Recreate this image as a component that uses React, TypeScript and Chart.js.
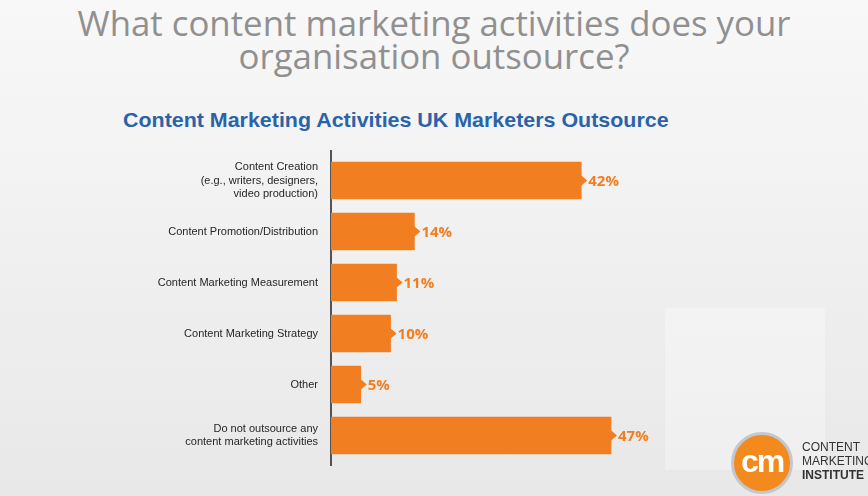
import { useEffect, useRef } from 'react';
import { Chart, registerables } from 'chart.js';

Chart.register(...registerables);

// chart data
const categories: (string | string[])[] = [
  ['Content Creation', '(e.g., writers, designers,', 'video production)'],
  'Content Promotion/Distribution',
  'Content Marketing Measurement',
  'Content Marketing Strategy',
  'Other',
  ['Do not outsource any', 'content marketing activities'],
];
const percentages = [42, 14, 11, 10, 5, 47];

const ORANGE = '#f27e22';

// axis line, small arrow at the end of each bar + the value next to it
const valueTags = {
  id: 'valueTags',
  beforeDatasetsDraw(chart: any) {
    const { ctx, chartArea } = chart;
    ctx.save();
    ctx.strokeStyle = '#1f1f1f';
    ctx.lineWidth = 1.5;
    ctx.beginPath();
    ctx.moveTo(chartArea.left, chartArea.top - 5);
    ctx.lineTo(chartArea.left, chartArea.bottom + 5);
    ctx.stroke();
    ctx.restore();
  },
  afterDatasetsDraw(chart: any) {
    const { ctx } = chart;
    const meta = chart.getDatasetMeta(0);
    ctx.save();
    meta.data.forEach((bar: any, i: number) => {
      const { x, y } = bar;
      ctx.fillStyle = ORANGE;
      ctx.beginPath();
      ctx.moveTo(x - 1, y - 6);
      ctx.lineTo(x + 6, y);
      ctx.lineTo(x - 1, y + 6);
      ctx.closePath();
      ctx.fill();
      ctx.font = 'bold 15px "Open Sans"';
      ctx.textAlign = 'left';
      ctx.textBaseline = 'middle';
      ctx.fillText(percentages[i] + '%', x + 7, y + 1);
    });
    ctx.restore();
  },
};

const OutsourceChart = () => {
  const canvasRef = useRef<HTMLCanvasElement | null>(null);
  const chartRef = useRef<Chart | null>(null);

  useEffect(() => {
    if (!canvasRef.current) return;
    if (chartRef.current) chartRef.current.destroy();
    const ctx = canvasRef.current.getContext('2d');
    if (!ctx) return;

    chartRef.current = new Chart(ctx, {
      type: 'bar',
      data: {
        labels: categories,
        datasets: [
          {
            data: percentages,
            backgroundColor: ORANGE,
            barThickness: 37,
          },
        ],
      },
      options: {
        indexAxis: 'y',
        responsive: false,
        animation: false,
        layout: { padding: { top: 155, bottom: 35, left: 0, right: 108 } },
        plugins: {
          legend: { display: false },
          tooltip: { enabled: false },
        },
        scales: {
          x: {
            display: false,
            min: 0,
            max: 72,
          },
          y: {
            grid: { display: false },
            border: { display: false },
            afterFit: (scale: any) => {
              scale.width = 331;
            },
            ticks: {
              color: '#262626',
              padding: 5,
              font: { family: '"Liberation Sans", Arial, sans-serif', size: 11, lineHeight: 1.2 },
            },
          },
        },
      },
      plugins: [valueTags],
    });

    return () => {
      if (chartRef.current) chartRef.current.destroy();
    };
  }, []);

  return <canvas ref={canvasRef} width={868} height={496} style={{ position: 'absolute', left: 0, top: 0 }} />;
};

export default function App() {
  useEffect(() => {
    document.body.style.margin = '0';
  }, []);

  return (
    <div
      style={{
        position: 'relative',
        width: 868,
        height: 496,
        overflow: 'hidden',
        background: 'linear-gradient(#f8f8f8, #e8e8e8)',
      }}
    >
      <div
        style={{
          position: 'absolute',
          left: 665,
          top: 308,
          width: 160,
          height: 162,
          background: 'rgba(255,255,255,0.3)',
        }}
      />
      <div
        style={{
          position: 'absolute',
          left: 0,
          top: 6,
          width: 868,
          textAlign: 'center',
          fontFamily: '"Open Sans", sans-serif',
          fontSize: 34.8,
          lineHeight: '33px',
          color: '#909090',
        }}
      >
        What content marketing activities does your
        <br />
        organisation outsource?
      </div>
      <div
        style={{
          position: 'absolute',
          left: 123,
          top: 107,
          fontFamily: '"Liberation Sans", sans-serif',
          fontWeight: 'bold',
          fontSize: 21,
          lineHeight: '26px',
          color: '#2a63a8',
          transform: 'scaleX(1.02)',
          transformOrigin: 'left',
        }}
      >
        Content Marketing Activities UK Marketers Outsource
      </div>
      <OutsourceChart />
      <div
        style={{
          position: 'absolute',
          left: 731,
          top: 432,
          width: 56,
          height: 56,
          borderRadius: '50%',
          background: '#f28a1e',
          border: '3px solid #c3c7d0',
          color: '#fff',
          fontFamily: '"Liberation Sans", sans-serif',
          fontWeight: 'bold',
          fontSize: 32,
          lineHeight: '52px',
          textAlign: 'center',
          letterSpacing: -2,
        }}
      >
        cm
      </div>
      <div
        style={{
          position: 'absolute',
          left: 802,
          top: 440,
          fontFamily: '"Liberation Sans", sans-serif',
          fontSize: 12,
          lineHeight: '14px',
          color: '#333',
        }}
      >
        CONTENT
        <br />
        MARKETING
        <br />
        <b>INSTITUTE</b>
      </div>
    </div>
  );
}
